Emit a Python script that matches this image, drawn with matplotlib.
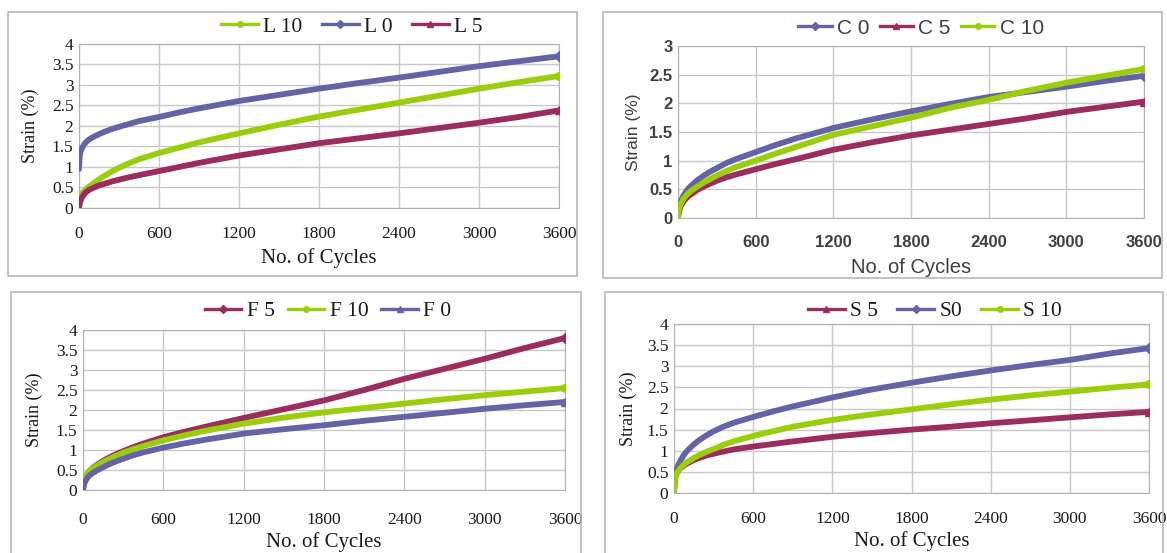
import matplotlib
matplotlib.use("Agg")
import matplotlib.pyplot as plt
from matplotlib.lines import Line2D
from matplotlib.patches import Rectangle
from matplotlib.ticker import MultipleLocator, FuncFormatter

cycles = [0, 5, 10, 20, 35, 50, 75, 100, 150, 200, 250, 300, 375, 450, 600, 750, 900,
          1200, 1500, 1800, 2100, 2400, 2700, 3000, 3300, 3600]
x_ticks = [0, 600, 1200, 1800, 2400, 3000, 3600]

# L panel
L0 = [0.95, 1.25, 1.35, 1.45, 1.53, 1.6, 1.67, 1.72, 1.8, 1.87, 1.93, 1.98, 2.05, 2.12,
      2.22, 2.33, 2.43, 2.61, 2.76, 2.91, 3.05, 3.18, 3.32, 3.46, 3.58, 3.70]
L5 = [0.0, 0.1, 0.16, 0.25, 0.32, 0.38, 0.44, 0.48, 0.55, 0.6, 0.65, 0.69, 0.75, 0.8,
      0.9, 1.0, 1.1, 1.28, 1.43, 1.58, 1.7, 1.82, 1.95, 2.08, 2.22, 2.38]
L10 = [0.0, 0.2, 0.26, 0.35, 0.41, 0.45, 0.52, 0.58, 0.7, 0.8, 0.9, 0.98, 1.09, 1.19,
       1.34, 1.47, 1.6, 1.82, 2.03, 2.23, 2.4, 2.57, 2.74, 2.91, 3.07, 3.22]

# C panel
C0 = [0.0, 0.15, 0.2, 0.28, 0.36, 0.42, 0.5, 0.56, 0.66, 0.74, 0.81, 0.87, 0.96, 1.03,
      1.15, 1.27, 1.38, 1.57, 1.72, 1.86, 1.99, 2.11, 2.2, 2.29, 2.39, 2.48]
C5 = [0.0, 0.08, 0.13, 0.2, 0.26, 0.31, 0.37, 0.41, 0.49, 0.55, 0.6, 0.65, 0.71, 0.76,
      0.85, 0.94, 1.02, 1.19, 1.32, 1.44, 1.54, 1.64, 1.74, 1.85, 1.94, 2.03]
C10 = [0.0, 0.12, 0.17, 0.24, 0.31, 0.36, 0.42, 0.47, 0.55, 0.62, 0.68, 0.74, 0.82, 0.89,
       1.0, 1.12, 1.23, 1.45, 1.6, 1.75, 1.92, 2.06, 2.22, 2.36, 2.48, 2.6]

# F panel
F0 = [0.0, 0.1, 0.16, 0.24, 0.31, 0.37, 0.43, 0.48, 0.57, 0.65, 0.72, 0.78, 0.87, 0.94,
      1.06, 1.16, 1.25, 1.41, 1.52, 1.62, 1.73, 1.83, 1.93, 2.03, 2.12, 2.2]
F5 = [0.0, 0.15, 0.22, 0.32, 0.41, 0.48, 0.56, 0.62, 0.73, 0.82, 0.9, 0.97, 1.07, 1.16,
      1.32, 1.45, 1.57, 1.8, 2.02, 2.24, 2.5, 2.78, 3.03, 3.28, 3.55, 3.8]
F10 = [0.0, 0.18, 0.25, 0.34, 0.42, 0.48, 0.55, 0.6, 0.7, 0.78, 0.86, 0.93, 1.02, 1.1,
       1.24, 1.36, 1.47, 1.66, 1.81, 1.94, 2.05, 2.16, 2.27, 2.37, 2.46, 2.55]

# S panel
S0 = [0.0, 0.35, 0.45, 0.57, 0.68, 0.77, 0.9, 1.0, 1.15, 1.27, 1.37, 1.46, 1.57, 1.66,
      1.8, 1.93, 2.05, 2.26, 2.45, 2.61, 2.76, 2.9, 3.03, 3.15, 3.3, 3.43]
S5 = [0.0, 0.3, 0.38, 0.46, 0.54, 0.59, 0.65, 0.7, 0.78, 0.84, 0.89, 0.93, 0.98, 1.03,
      1.1, 1.16, 1.22, 1.33, 1.42, 1.5, 1.57, 1.65, 1.72, 1.79, 1.86, 1.92]
S10 = [0.0, 0.3, 0.37, 0.46, 0.54, 0.6, 0.67, 0.73, 0.83, 0.91, 0.98, 1.04, 1.14, 1.22,
       1.35, 1.46, 1.57, 1.73, 1.86, 1.98, 2.1, 2.21, 2.31, 2.4, 2.49, 2.57]

BLUE = "#6363a6"
RED = "#9c2c60"
GREEN = "#9acd0a"

W, H = 1167, 553
fig = plt.figure(figsize=(W / 100, H / 100), dpi=100)


def box(x0, y0, x1, y1):
    fig.patches.append(Rectangle((x0 / W, 1 - y1 / H), (x1 - x0) / W, (y1 - y0) / H,
                                 transform=fig.transFigure, fill=False,
                                 edgecolor="#b8b8b8", lw=1.2))


def panel(rect, series, ymax, font, txtcol, leg_x, leg_y, tsize, tweight,
          lsize, xpad, xlpad, ylpad, legsize, hlen, cspace):
    x0, y0, x1, y1 = rect
    ax = fig.add_axes([x0 / W, 1 - y1 / H, (x1 - x0) / W, (y1 - y0) / H])
    for name, vals, col, mk in series:
        ax.plot(cycles, vals, color=col, lw=4.2, solid_capstyle="round",
                solid_joinstyle="round", zorder=3)
        ax.plot(cycles[-1], vals[-1], marker=mk, color=col, ms=5.5, zorder=4)
    ax.set_xlim(0, 3600)
    ax.set_ylim(0, ymax)
    ax.set_xticks(x_ticks)
    ax.yaxis.set_major_locator(MultipleLocator(0.5))
    ax.yaxis.set_major_formatter(FuncFormatter(lambda v, p: ("%g" % v)))
    ax.grid(True, color="#c8c8c8", lw=1.0, zorder=0)
    for s in ax.spines.values():
        s.set_color("#b0b0b0")
    ax.tick_params(length=0, labelsize=tsize, colors=txtcol)
    ax.tick_params(axis="x", pad=xpad)
    ax.tick_params(axis="y", pad=4)
    for lab in ax.get_xticklabels() + ax.get_yticklabels():
        lab.set_family(font)
        lab.set_weight(tweight)
    ax.set_xlabel("No. of Cycles", family=font, fontsize=lsize, color=txtcol,
                  labelpad=xlpad)
    ax.set_ylabel("Strain (%)", family=font, fontsize=lsize - 2, color=txtcol,
                  labelpad=ylpad)
    handles = [Line2D([], [], color=c, lw=2.4, marker=m, ms=4) for _, _, c, m in series]
    names = [n for n, _, _, _ in series]
    fig.legend(handles, names, loc="center", bbox_to_anchor=(leg_x / W, 1 - leg_y / H),
               ncol=3, frameon=False, handlelength=hlen, handletextpad=0.25,
               columnspacing=cspace, prop={"family": font, "size": legsize},
               labelcolor=txtcol)
    return ax


serif = "Liberation Serif"
sans = "Liberation Sans"

box(8, 12, 577, 276)
panel((79, 44, 559, 208),
      [("L 10", L10, GREEN, "o"), ("L 0", L0, BLUE, "D"), ("L 5", L5, RED, "^")],
      4, serif, "#1a1a1a", 352, 27, 12.5, "normal", 15, 13, 4, 9, 15.5, 1.7, 0.9)

box(603, 12, 1162, 278)
panel((678, 46, 1144, 218),
      [("C 0", C0, BLUE, "D"), ("C 5", C5, RED, "^"), ("C 10", C10, GREEN, "o")],
      3, sans, "#404040", 921, 28, 12, "bold", 14.5, 12, 6, 6, 15, 1.6, 0.5)

box(11, 292, 581, 600)
panel((83, 330, 565, 490),
      [("F 5", F5, RED, "D"), ("F 10", F10, GREEN, "o"), ("F 0", F0, BLUE, "^")],
      4, serif, "#1a1a1a", 328, 311, 12.5, "normal", 15, 16, 3, 9, 15.5, 1.7, 0.6)

box(605, 292, 1163, 600)
panel((674, 324, 1149, 493),
      [("S 5", S5, RED, "^"), ("S0", S0, BLUE, "D"), ("S 10", S10, GREEN, "o")],
      4, serif, "#1a1a1a", 935, 311, 12.5, "normal", 15, 13, 3, 7, 15.5, 1.7, 0.9)

fig.savefig("out.png", dpi=100)
